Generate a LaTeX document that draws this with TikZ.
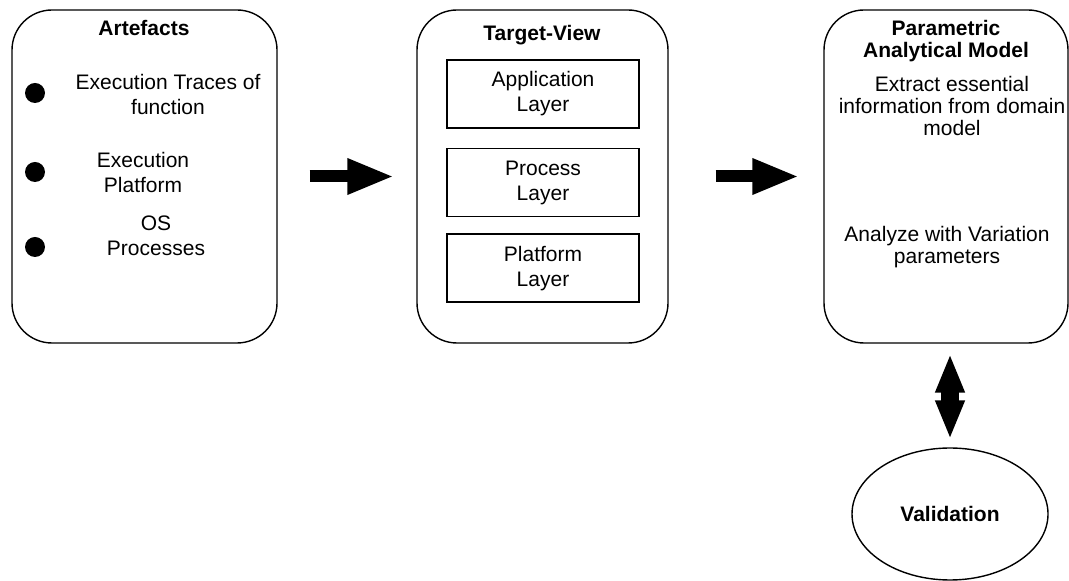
\documentclass[tikz,border=0pt]{standalone}
\usepackage{fontspec}
\setmainfont{Liberation Sans}
\usetikzlibrary{arrows.meta, positioning, shapes.geometric}

\begin{document}
\begin{tikzpicture}[
    x=0.5pt, y=-0.5pt,
    font=\fontsize{10.5}{12.5}\selectfont,
    node distance=9pt,
    panel/.style={draw, line width=0.7pt, rounded corners=20pt, minimum height=166.5pt, inner sep=0pt},
    layer/.style={draw, line width=0.8pt, minimum width=96pt, minimum height=34pt, align=center, inner sep=0pt},
    head/.style={font=\bfseries\fontsize{10.5}{11}\selectfont, align=center},
    txt/.style={align=center},
    tight/.style={align=center, font=\fontsize{10.5}{11.2}\selectfont},
    bullet/.style={circle, fill, inner sep=0pt, minimum size=10pt},
    fat/.style={-{Triangle[length=23.5pt, width=16.5pt]}, line width=6pt},
    twin/.style={{Triangle[length=19.5pt, width=13.5pt]}-{Triangle[length=19.5pt, width=13.5pt]}, line width=9pt}
]
\useasboundingbox (0,0) rectangle (1069,581);

% Artefacts
\node[panel, minimum width=132.5pt] (art) at (144.5,176.5) {};
\node[head] (arttitle) at (144,28) {Artefacts};
\node[bullet] (b1) at (35,93) {};
\node[bullet] (b2) at (35,172) {};
\node[bullet] (b3) at (35,247) {};
\node[txt] (traces) at (168,95) {Execution Traces of\\function};
\node[txt] (platf) at (143,172) {Execution\\Platform};
\node[txt] (osproc) at (156,236) {OS\\Processes};

% Target-View
\node[panel, minimum width=125.5pt] (tv) at (542.5,176.5) {};
\node[head] (tvtitle) at (542,35) {Target-View};
\node[layer] (app) at (543,94) {Application\\Layer};
\node[layer, below=9.5pt of app] (proc) {Process\\Layer};
\node[layer, below=8pt of proc] (plat) {Platform\\Layer};

% Parametric Analytical Model
\node[panel, minimum width=122pt] (pam) at (946,176.5) {};
\node[head] (pamtitle) at (946,41) {Parametric\\Analytical Model};
\node[tight] (extract) at (952,106) {Extract essential\\information from domain\\model};
\node[tight] (analyze) at (947,247) {Analyze with Variation\\parameters};

% Validation
\node[draw, ellipse, line width=0.7pt, minimum width=98pt, minimum height=66pt, inner sep=0pt,
      font=\bfseries\fontsize{10.5}{12.5}\selectfont] (valid) at (950,514) {Validation};

\draw[fat, shorten <=16pt, shorten >=11pt] (art) -- (tv);
\draw[fat, shorten <=23.5pt, shorten >=12pt] (tv) -- (pam);
\draw[twin, shorten <=5pt, shorten >=4pt] (valid.north |- pam.south) -- (valid.north);

\end{tikzpicture}
\end{document}
